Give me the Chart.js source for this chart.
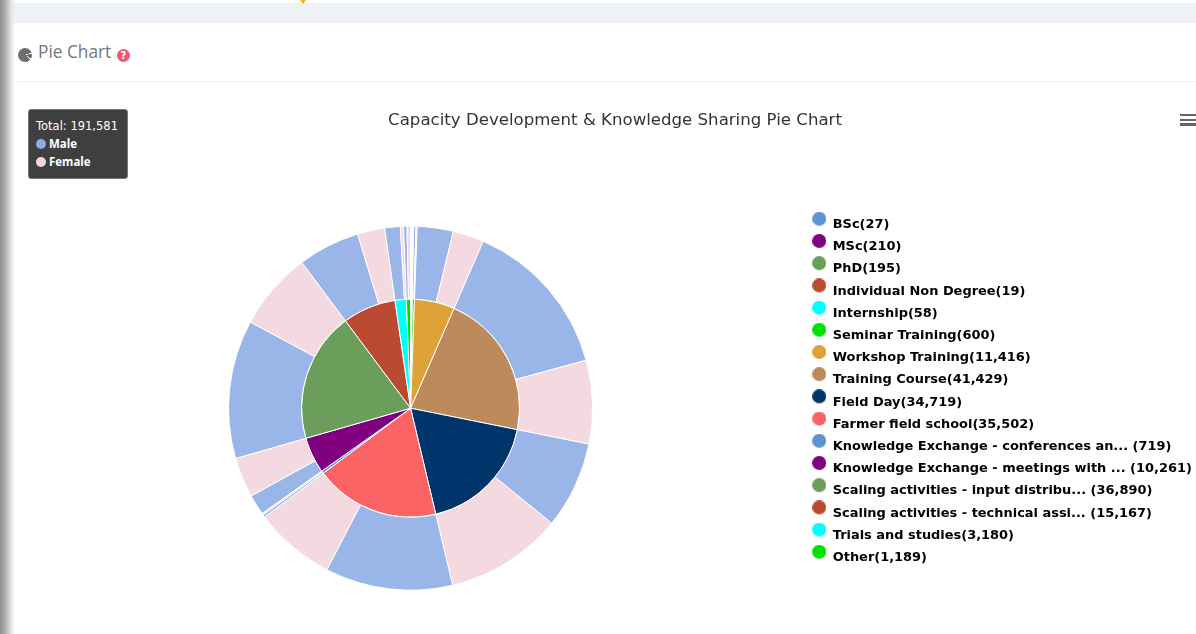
<!DOCTYPE html>
<html><head><meta charset="utf-8">
<style>
html,body{margin:0;padding:0;width:1196px;height:634px;overflow:hidden;background:#fff;font-family:"Open Sans",sans-serif}
#top{position:absolute;left:0;top:3px;width:1196px;height:20px;background:#eef1f5}
#mark{position:absolute;left:300px;top:0;width:0;height:0;border-left:3px solid transparent;border-right:3px solid transparent;border-top:4px solid #f4b400}
#shade{position:absolute;left:0;top:0;width:15px;height:634px;background:linear-gradient(90deg,#8f8f8f 0%,#a8a8a8 30%,#e4e4e4 75%,rgba(255,255,255,0) 100%);z-index:3}
#icon{position:absolute;left:18px;top:48px;width:14px;height:14px;border-radius:50%;background:conic-gradient(#6e6e6e 0 70deg,#fff 70deg 80deg,#6e6e6e 80deg 120deg,#fff 120deg 135deg,#6e6e6e 135deg)}
#head{position:absolute;left:38px;top:40px;font-size:17.3px;color:#707880;line-height:24px}
#help{position:absolute;left:117px;top:49px;width:13px;height:13px;border-radius:50%;background:#ed5a6e;color:#fff;font:bold 10px/13px "DejaVu Sans",sans-serif;text-align:center}
#rule{position:absolute;left:18px;top:81px;width:1178px;height:1px;background:#ececec}
#box{position:absolute;left:28px;top:109px;width:100px;height:70px;box-sizing:border-box;background:#3f3f3f;border:1px solid #777;border-radius:3px;color:#fff;font:11.5px/18px "DejaVu Sans",sans-serif;z-index:2}
#box div{position:absolute;left:7px;white-space:nowrap}
#box span{font:bold 11.5px/18px "Open Sans",sans-serif}
#box i{position:absolute;left:7px;width:10px;height:10px;border-radius:50%}
#menu{position:absolute;left:1180px;top:114px;width:16px;z-index:2}
#menu b{display:block;height:2.4px;background:#666;margin-bottom:2.2px}
canvas#c{position:absolute;left:0;top:0}
</style></head><body>
<div id="top"></div><div id="mark"></div><div id="shade"></div>
<div id="icon"></div><div id="head">Pie Chart</div><div id="help">?</div><div id="rule"></div>
<div id="box"><div style="top:7px">Total: 191,581</div><i style="top:29px;background:#8fabe8"></i><div style="top:25px;left:20px"><span>Male</span></div><i style="top:47px;background:#f6d5dc"></i><div style="top:43px;left:20px"><span>Female</span></div></div>
<div id="menu"><b></b><b></b><b></b></div>
<canvas id="c" width="1196" height="686"></canvas>
<script src="https://cdn.jsdelivr.net/npm/chart.js@4"></script>
<script>
const categories = ["BSc","MSc","PhD","Individual Non Degree","Internship","Seminar Training","Workshop Training","Training Course","Field Day","Farmer field school","Knowledge Exchange - conferences an...","Knowledge Exchange - meetings with ...","Scaling activities - input distribu...","Scaling activities - technical assi...","Trials and studies","Other"];
const suffixFree = [false,false,false,false,false,false,false,false,false,false,true,true,true,true,false,false];
const totals = [27,210,195,19,58,600,11416,41429,34719,35502,719,10261,36890,15167,3180,1189];
const male   = [15,120,120,10,35,400,6130,27240,14800,21700,430,3460,23580,10540,2650,600];
const female = [12,90,75,9,23,200,5286,14189,19919,13802,289,6801,13310,4627,530,589];
const colors = ["#5b94d3","#800080","#6c9e5b","#bb4a30","#00ffff","#00e000","#dea236","#bd8a5c","#00356b","#fa6464","#5b94d3","#800080","#6c9e5b","#bb4a30","#00ffff","#00e000"];
const maleColor = "#9ab6e9", femaleColor = "#f5d9e0";
const titleText = "Capacity Development & Knowledge Sharing Pie Chart";

const outer = [], outerColors = [];
male.forEach((m,i)=>{ outer.push(m,female[i]); outerColors.push(maleColor,femaleColor); });

const legendLabel = i => categories[i] + (suffixFree[i] ? " (" : "(") + totals[i].toLocaleString("en-US") + ")";

// legend marker: a circle sitting a little above the text's centre line
const marker = color => {
  const m = document.createElement("canvas"); m.width = 14; m.height = 26;
  const g = m.getContext("2d"); g.fillStyle = color;
  g.beginPath(); g.arc(7,7,7,0,Math.PI*2); g.fill();
  return m;
};

new Chart(document.getElementById("c"),{
  type:"pie",
  data:{labels:categories,datasets:[
    {data:outer,backgroundColor:outerColors,weight:73,borderColor:"#fff",borderWidth:1},
    {data:totals,backgroundColor:colors,weight:109,borderColor:"#fff",borderWidth:1}
  ]},
  options:{
    responsive:false,animation:false,radius:182,
    layout:{padding:{left:24,right:0,top:0,bottom:0}},
    plugins:{
      title:{display:true,text:titleText,color:"#333",font:{family:"DejaVu Sans",size:16.6,weight:"normal"},padding:{top:110.5,bottom:0}},
      tooltip:{enabled:false},
      legend:{position:"right",align:"start",
        labels:{usePointStyle:true,pointStyleWidth:14,boxHeight:10,padding:9.25,color:"#000",
          font:{family:"DejaVu Sans",size:12.95,weight:"bold"},
          generateLabels:()=>categories.map((c,i)=>({text:legendLabel(i),fillStyle:colors[i],strokeStyle:colors[i],lineWidth:0,pointStyle:marker(colors[i]),datasetIndex:0,index:i}))
        }}
    }
  },
  plugins:[{id:"placeBlocks",afterLayout(chart){
    const t = chart.titleBlock, l = chart.legend;
    const d = 615 - (t.left + t.right)/2;
    t.left += d; t.right += d;
    const dx = 803 - l.left, dy = 209 - l.top;
    l.left += dx; l.right += dx; l.top += dy; l.bottom += dy;
  }}]
});
</script>
</body></html>
